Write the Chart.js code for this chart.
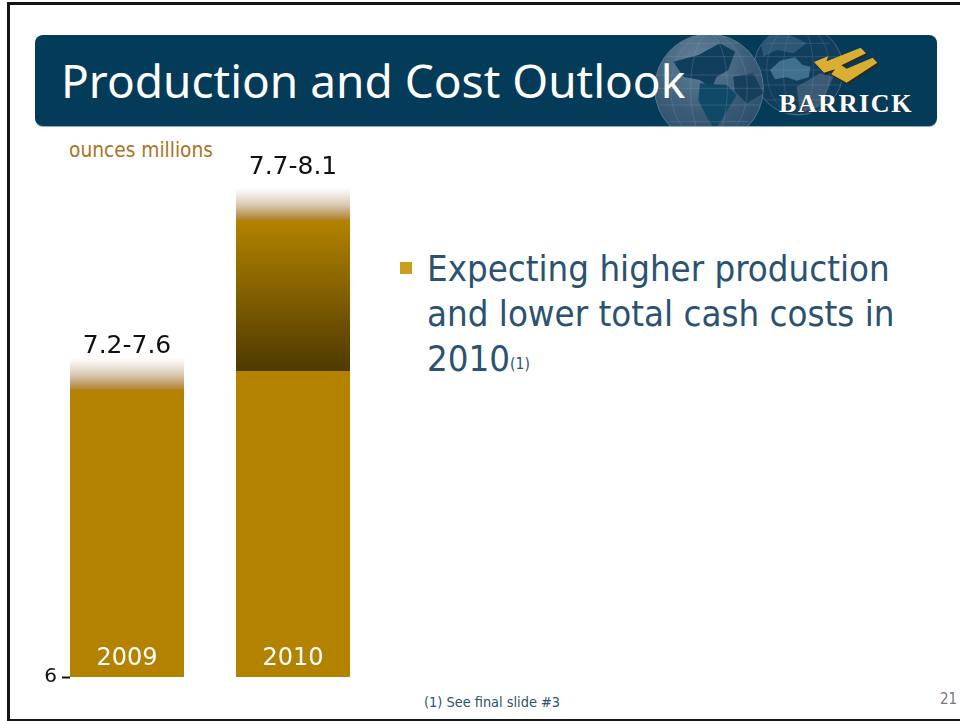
<!DOCTYPE html>
<html>
<head>
<meta charset="utf-8">
<title>Production and Cost Outlook</title>
<script src="https://cdn.jsdelivr.net/npm/chart.js@4/dist/chart.umd.min.js"></script>
<style>
  html, body { margin: 0; padding: 0; background: #fff; }
  body { position: relative; width: 960px; height: 721px; overflow: hidden; font-family: "DejaVu Sans Condensed", "DejaVu Sans", sans-serif; font-stretch: condensed; }
  #frame { position: absolute; left: 7px; top: 2px; width: 1000px; height: 714px; border: 3px solid #151515; }
  #banner { position: absolute; left: 35px; top: 35px; width: 902px; height: 91px; background: #033b59; border-radius: 8px; box-shadow: 0 1px 0 #8fb0c2; }
  #art { position: absolute; left: 620px; top: 20px; width: 340px; height: 120px; }
  #title { position: absolute; left: 61px; top: 50px; font-family: "Noto Sans", sans-serif; font-size: 46px; line-height: 60px; color: #fff; white-space: nowrap; }
  #brand { position: absolute; left: 779px; top: 88px; font: bold 26px/32px "Liberation Serif", serif; letter-spacing: 1.6px; color: #fff; text-shadow: 1px 1px 0 #22303a; }
  #unit { position: absolute; left: 69px; top: 136px; font-size: 20.7px; line-height: 28px; color: #a8741f; white-space: nowrap; }
  #bullet { position: absolute; left: 400px; top: 262px; width: 12px; height: 12px; background: #c9a01c; }
  #points { position: absolute; left: 427px; top: 246px; font-size: 36.3px; line-height: 45px; color: #2b5270; white-space: nowrap; }
  #points sup { font-size: 15.5px; line-height: 0; vertical-align: 2px; }
  #note { position: absolute; left: 424px; top: 692px; font-size: 14.4px; line-height: 20px; color: #2b5270; white-space: nowrap; }
  #page { position: absolute; left: 940px; top: 689px; font-size: 15px; line-height: 20px; color: #777; }
  #chart { position: absolute; left: 0; top: 0; }
</style>
</head>
<body>
<div id="frame"></div>
<div id="banner"></div>
<svg id="art" viewBox="0 0 1020 360">
  <defs>
    <radialGradient id="sea" cx="0.4" cy="0.25" r="0.8">
      <stop offset="0" stop-color="#64829b"/>
      <stop offset="0.6" stop-color="#3b5c78"/>
      <stop offset="1" stop-color="#2c4e6a"/>
    </radialGradient>
    <clipPath id="band"><rect x="0" y="45" width="950" height="273"/></clipPath>
    <clipPath id="west"><circle cx="267" cy="205" r="163"/></clipPath>
    <clipPath id="east"><circle cx="535" cy="150" r="135"/></clipPath>
  </defs>
  <g clip-path="url(#band)">
    <!-- far globe -->
    <circle cx="535" cy="150" r="135" fill="#123f5e" stroke="#5d7e96" stroke-width="2"/>
    <g clip-path="url(#east)">
      <path d="M450 150 L480 122 L525 112 L548 135 L572 140 L566 172 L530 182 L500 172 L465 178Z" fill="#41708f"/>
      <path d="M420 50 L500 40 L560 70 L520 100 L470 90 L430 110Z" fill="#2d5876"/>
      <path d="M530 200 L600 160 L640 170 L600 260 L540 280Z" fill="#3b5a76"/>
      <g fill="none" stroke="#7d97aa" stroke-width="1.2" opacity="0.6">
        <ellipse cx="535" cy="150" rx="45" ry="135"/><ellipse cx="535" cy="150" rx="95" ry="135"/>
        <path d="M405 110 H665 M400 150 H670 M405 195 H665 M430 240 H640 M440 70 H630"/>
      </g>
    </g>
    <!-- near globe -->
    <circle cx="267" cy="205" r="163" fill="url(#sea)" stroke="#6a8aa0" stroke-width="2"/>
    <g clip-path="url(#west)">
      <path d="M160 125 L235 105 L300 70 L345 95 L325 150 L290 170 L275 205 L240 180 L190 170Z" fill="#123f5e"/>
      <path d="M240 190 L320 195 L350 225 L310 290 L285 330 L260 290 L235 240Z" fill="#0f4a68"/>
      <path d="M340 170 L400 160 L430 220 L380 250 L345 215Z" fill="#16405e"/>
      <g fill="none" stroke="#8ea6b6" stroke-width="1.2" opacity="0.6">
        <ellipse cx="267" cy="205" rx="55" ry="163"/><ellipse cx="267" cy="205" rx="115" ry="163"/>
        <path d="M110 165 H425 M104 205 H430 M112 255 H422 M140 110 H395 M180 70 H355 M150 305 H385"/>
      </g>
    </g>
    <!-- gold mark -->
    <path transform="translate(4 6)" d="M582 126 L624 109 L620 124 L722 83 L738 100 L664 136 L680 146 L758 113 L772 128 L680 188 L634 163 L645 148 L612 158Z" fill="#2c2a20"/>
    <path d="M582 126 L624 109 L620 124 L722 83 L738 100 L664 136 L680 146 L758 113 L772 128 L680 188 L634 163 L645 148 L612 158Z" fill="#d9ae33"/>
  </g>
</svg>
<div id="title">Production and Cost Outlook</div>
<div id="brand">BARRICK</div>
<div id="unit">ounces millions</div>
<div id="bullet"></div>
<div id="points">Expecting higher production<br>and lower total cash costs in<br>2010<sup>(1)</sup></div>
<div id="note">(1) See final slide #3</div>
<div id="page">21</div>
<canvas id="chart" width="960" height="721"></canvas>

<script>
const years = ['2009', '2010'];
const rangeLabels = ['7.2-7.6', '7.7-8.1'];
const axisTicks = [6];

// ounces in millions, each pair is [from, to]
const baseSeries = [[6, 7.2], [6, 7.4]];
const increaseSeries = [null, [7.4, 7.7]];
const rangeSeries = [[7.2, 7.6], [7.7, 8.1]];

// the value axis is not evenly spaced: breaks sit at these values and fractions of its height
const axisBreaks = [6, 7.2, 7.4, 7.6, 7.7, 8.1];
const axisBreakFractions = [0, 0.58691, 0.62577, 0.65235, 0.93456, 1];

const GOLD = '#b38300';

function interpolate(v, from, to) {
  for (let i = 1; i < from.length; i++) {
    if (v <= from[i]) {
      return to[i - 1] + (v - from[i - 1]) / (from[i] - from[i - 1]) * (to[i] - to[i - 1]);
    }
  }
  return to[to.length - 1];
}

class BrokenScale extends Chart.LinearScale {
  getPixelForValue(value) {
    return this.getPixelForDecimal(interpolate(value, axisBreaks, axisBreakFractions));
  }
  getValueForPixel(pixel) {
    return interpolate(this.getDecimalForPixel(pixel), axisBreakFractions, axisBreaks);
  }
}
BrokenScale.id = 'broken';
BrokenScale.defaults = Chart.LinearScale.defaults;
Chart.register(BrokenScale);

// vertical gradient across one floating bar, stops go from its top to its bottom
function barGradient(stops) {
  return (c) => {
    if (!c.raw || !c.chart.chartArea) return GOLD;
    const y = c.chart.scales.y;
    const top = y.getPixelForValue(c.raw[1]);
    const bottom = y.getPixelForValue(c.raw[0]);
    if (!isFinite(top) || !isFinite(bottom)) return GOLD;
    const g = c.chart.ctx.createLinearGradient(0, top, 0, bottom);
    stops.forEach(([at, col]) => g.addColorStop(at, col));
    return g;
  };
}

// range text above each bar
const rangeText = {
  id: 'rangeText',
  afterDatasetsDraw(chart, args, opts) {
    const ctx = chart.ctx;
    const meta = chart.getDatasetMeta(2);
    ctx.save();
    ctx.font = '25px "DejaVu Sans"';
    ctx.fillStyle = '#111';
    ctx.textAlign = 'center';
    ctx.textBaseline = 'alphabetic';
    meta.data.forEach((bar, i) => ctx.fillText(rangeLabels[i], bar.x, bar.y - opts.lift[i]));
    ctx.restore();
  }
};

new Chart(document.getElementById('chart'), {
  type: 'bar',
  data: {
    labels: years,
    datasets: [
      { data: baseSeries, backgroundColor: GOLD },
      { data: increaseSeries, backgroundColor: barGradient([[0, GOLD], [1, '#4e3900']]) },
      { data: rangeSeries, backgroundColor: barGradient([[0, '#ffffff'], [0.5, '#dccdb9'], [1, '#b0802e']]) }
    ]
  },
  options: {
    responsive: false,
    animation: false,
    layout: { padding: { left: 44, right: 584, top: 188, bottom: 44 } },
    datasets: { bar: { grouped: false, categoryPercentage: 1, barPercentage: 0.687 } },
    plugins: { legend: { display: false }, tooltip: { enabled: false }, rangeText: { lift: [5, 14] } },
    scales: {
      x: {
        grid: { display: false },
        border: { display: false },
        afterFit(scale) { scale.height = 0; },
        ticks: { mirror: true, padding: 4, z: 1, color: '#fff', maxRotation: 0, font: { family: '"DejaVu Sans"', size: 24 } }
      },
      y: {
        type: 'broken',
        min: 6,
        max: 8.1,
        position: { x: -0.345 },
        afterBuildTicks(scale) { scale.ticks = axisTicks.map((value) => ({ value })); },
        grid: { drawOnChartArea: false, tickLength: 8, tickWidth: 2, color: '#111' },
        border: { display: false },
        // the label sits clear of the tick mark
        ticks: { color: '#111', font: { family: '"DejaVu Sans"', size: 20 }, callback: (v) => v + '\u00a0\u00a0' }
      }
    }
  },
  plugins: [rangeText]
});
</script>
</body>
</html>
